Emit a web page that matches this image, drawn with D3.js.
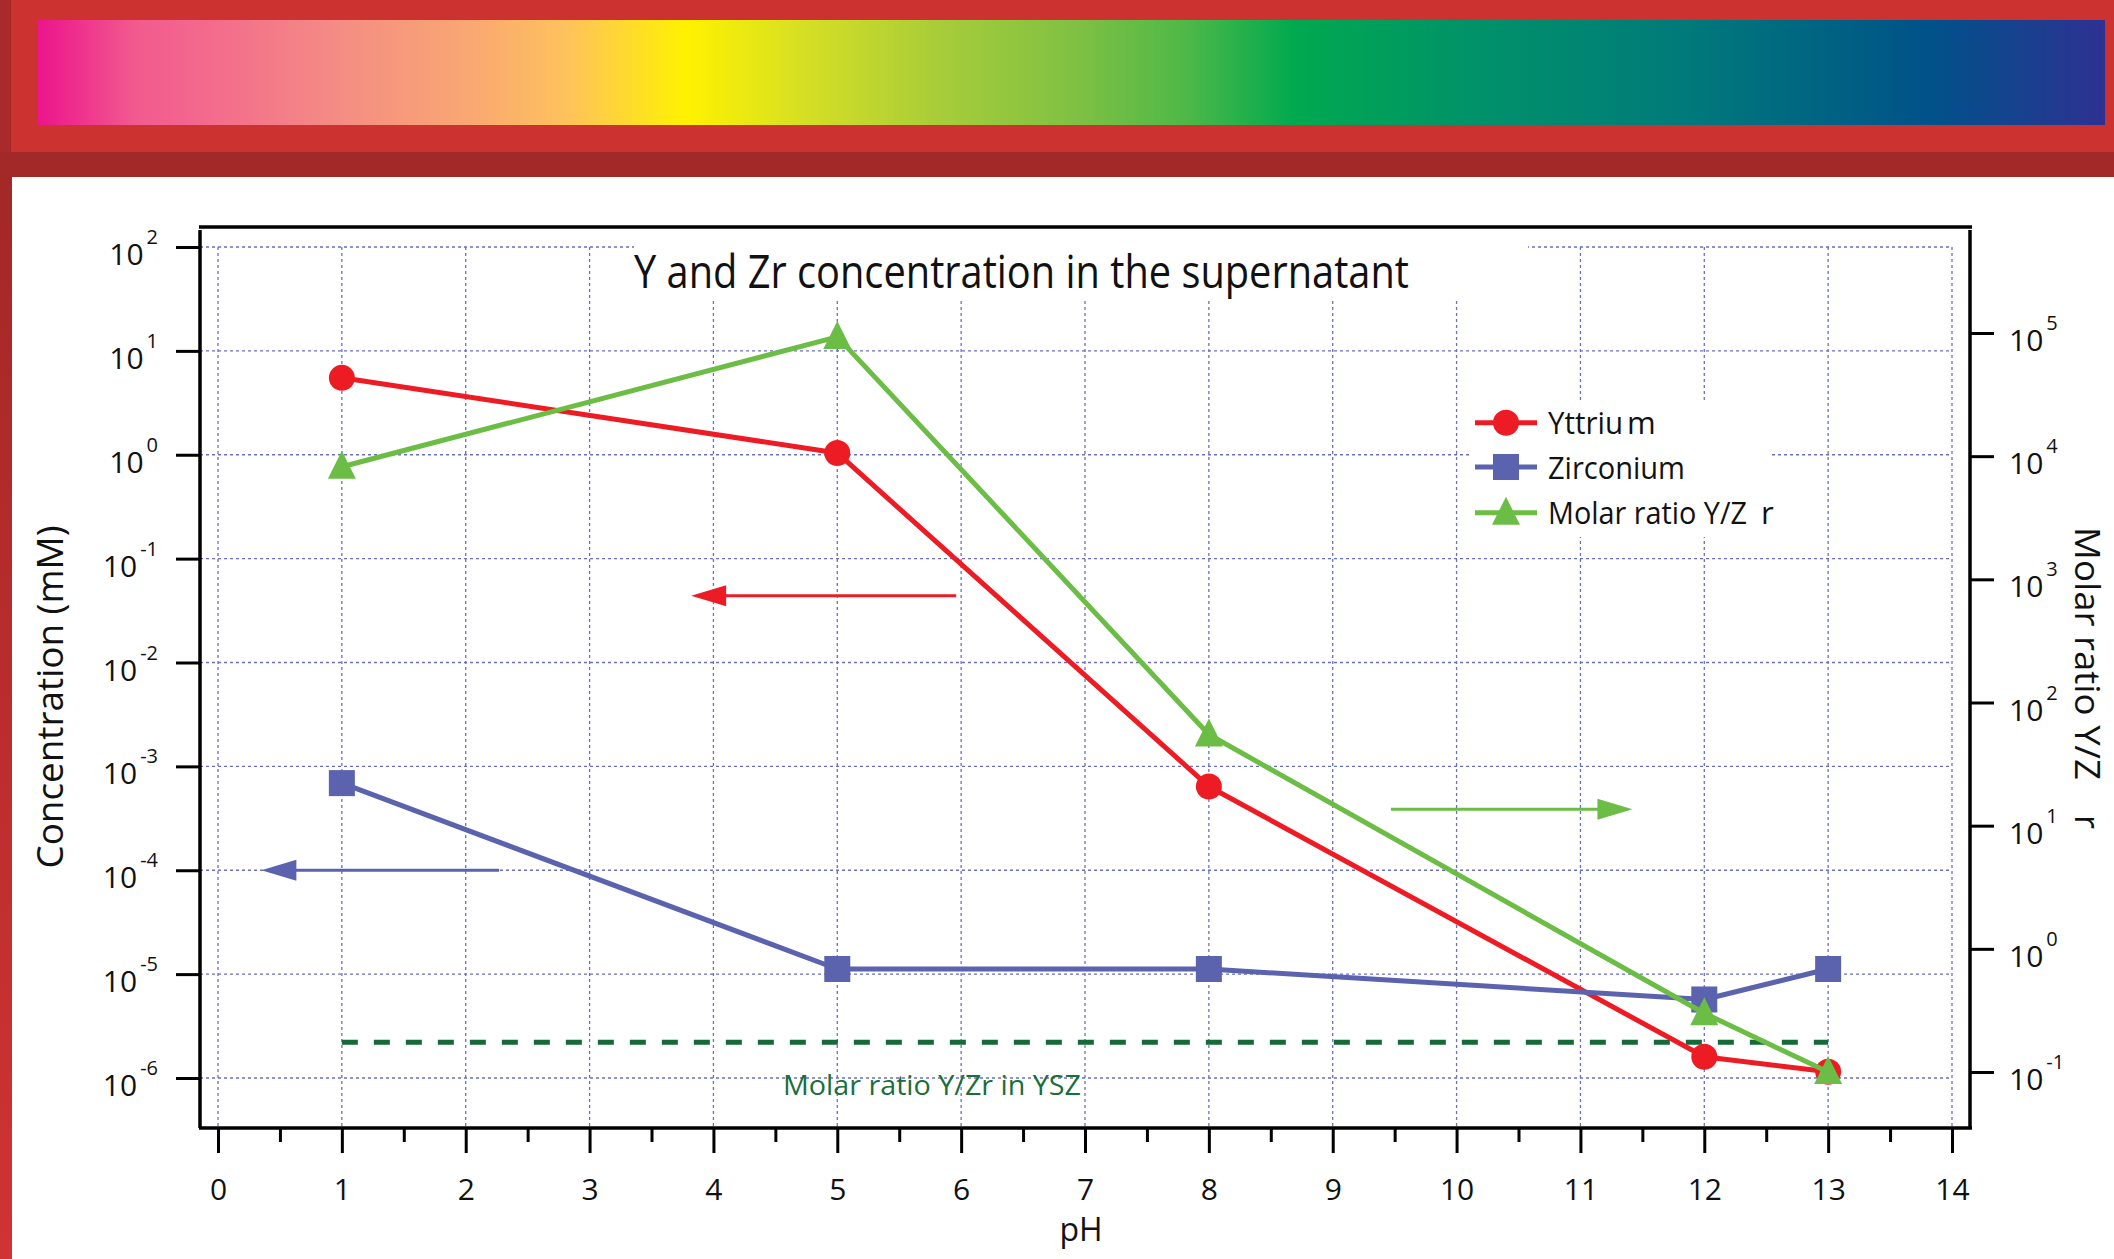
<!DOCTYPE html>
<html>
<head>
<meta charset="utf-8">
<script src="https://cdn.jsdelivr.net/npm/d3@7"></script>
<style>
  html, body { margin: 0; padding: 0; background: #fff; }
  svg { display: block; font-family: "Open Sans", "Noto Sans", sans-serif; }
</style>
</head>
<body>
<svg id="chart" width="2114" height="1259"></svg>
<script>
// values
const pH = [1, 5, 8, 12, 13];
const yttrium = [5.5, 1.04, 6.4e-4, 1.6e-6, 1.15e-6];      // mM, left axis
const zirconium = [6.9e-4, 1.12e-5, 1.12e-5, 5.7e-6, 1.12e-5]; // mM, left axis
const molarRatio = [8200, 9.3e4, 55, 0.30, 0.10];           // right axis
const yszRatio = 0.174;          // dashed reference line, right axis
const yszRange = [1, 13];

const xTicks = d3.range(0, 15);
const xMinor = d3.range(0.5, 14, 1);
const leftDecades = [-6, -5, -4, -3, -2, -1, 0, 1, 2];
const rightDecades = [-1, 0, 1, 2, 3, 4, 5];

// arrows pointing to the axis each curve belongs to
const arrowFrom = [5.96, 2.27, 9.47];
const arrowTo = [3.82, 0.35, 11.42];
const arrowLevel = [0.044, 1e-4, 13.6];
const arrowAxis = ["left", "left", "right"];

const legendLabels = ["Yttrium", "Zirconium", "Molar ratio Y/Zr"];

// header spectrum
const spectrumStops = [
  [0, "#ec148c"], [0.047, "#f25a8f"], [0.08, "#f3698d"], [0.145, "#f48c84"],
  [0.21, "#f9a872"], [0.256, "#fec25c"], [0.314, "#fff200"], [0.373, "#d4de25"],
  [0.438, "#a6cc3a"], [0.504, "#7ec043"], [0.556, "#4db848"], [0.608, "#00a94f"],
  [0.699, "#00916a"], [0.797, "#007a7a"], [0.915, "#005289"], [1, "#2e3192"]
];

const RED = "#ed1c24", BLUE = "#5b63ae", GREEN = "#6cbd45", DKGREEN = "#146a38";
const GRID = "#6a6fc6";

const svg = d3.select("#chart");

var x = d3.scaleLinear().domain([0, 14]).range([218, 1952]);
var yL = d3.scaleLog().domain([1e-6, 1e2]).range([1078, 247]);
var yR = d3.scaleLog().domain([0.1, 1e5]).range([1072, 333]);

var frame = { left: 200, right: 1970, top: 227, bottom: 1128 };

function fit(sel, len) {
  sel.attr("textLength", len).attr("lengthAdjust", "spacingAndGlyphs");
  return sel;
}

// ---- page decoration
var defs = svg.append("defs");
var spec = defs.append("linearGradient").attr("id", "spectrum");
spectrumStops.forEach(function(s) {
  spec.append("stop").attr("offset", s[0]).attr("stop-color", s[1]);
});
var side = defs.append("linearGradient").attr("id", "side")
  .attr("x1", 0).attr("y1", 0).attr("x2", 0).attr("y2", 1);
side.append("stop").attr("offset", 0).attr("stop-color", "#a32826");
side.append("stop").attr("offset", 1).attr("stop-color", "#d03333");

svg.append("rect").attr("x", 0).attr("y", 0).attr("width", 2114).attr("height", 152).attr("fill", "#cb3230");
svg.append("rect").attr("x", 0).attr("y", 0).attr("width", 11).attr("height", 152).attr("fill", "#a82a2b");
svg.append("rect").attr("x", 38).attr("y", 20).attr("width", 2067).attr("height", 105).attr("fill", "url(#spectrum)");
svg.append("rect").attr("x", 0).attr("y", 152).attr("width", 2114).attr("height", 25).attr("fill", "#a22927");
svg.append("rect").attr("x", 0).attr("y", 177).attr("width", 12).attr("height", 1082).attr("fill", "url(#side)");

// ---- grid
var grid = svg.append("g")
  .attr("stroke", GRID).attr("stroke-width", 1.3).attr("stroke-dasharray", "3,3");
grid.selectAll("line.v").data(xTicks).enter().append("line")
  .attr("x1", d => x(d)).attr("x2", d => x(d))
  .attr("y1", yL(1e2)).attr("y2", frame.bottom);
grid.selectAll("line.h").data(leftDecades).enter().append("line")
  .attr("x1", frame.left).attr("x2", x(14))
  .attr("y1", d => yL(Math.pow(10, d))).attr("y2", d => yL(Math.pow(10, d)));

// white boxes behind title and legend
svg.append("rect").attr("x", 634).attr("y", 232).attr("width", 894).attr("height", 69).attr("fill", "#fff");
svg.append("rect").attr("x", 1470).attr("y", 400).attr("width", 302).attr("height", 137).attr("fill", "#fff");

// ---- title
fit(svg.append("text").attr("x", 634).attr("y", 288)
  .attr("font-size", 45).attr("fill", "#111")
  .text("Y and Zr concentration in the supernatant"), 775);

// ---- YSZ reference line
svg.append("line")
  .attr("x1", x(yszRange[0])).attr("x2", x(yszRange[1]))
  .attr("y1", yR(yszRatio)).attr("y2", yR(yszRatio))
  .attr("stroke", DKGREEN).attr("stroke-width", 5).attr("stroke-dasharray", "16,16");
fit(svg.append("text").attr("x", 783).attr("y", 1095)
  .attr("font-size", 28).attr("fill", "#1a6e3c")
  .text("Molar ratio Y/Zr in YSZ"), 298);

// ---- arrows
var arrowColors = [RED, BLUE, GREEN];
arrowFrom.forEach(function(a, i) {
  var yy = arrowAxis[i] === "left" ? yL(arrowLevel[i]) : yR(arrowLevel[i]);
  var x0 = x(a), x1 = x(arrowTo[i]);
  var dir = x1 > x0 ? 1 : -1;
  svg.append("line").attr("x1", x0).attr("x2", x1 - dir * 30)
    .attr("y1", yy).attr("y2", yy)
    .attr("stroke", arrowColors[i]).attr("stroke-width", 3);
  svg.append("path")
    .attr("d", "M" + x1 + "," + yy + "L" + (x1 - dir * 35) + "," + (yy - 10.5) +
               "L" + (x1 - dir * 35) + "," + (yy + 10.5) + "Z")
    .attr("fill", arrowColors[i]);
});

// ---- series
var series = [
  { values: yttrium, scale: yL, color: RED, shape: "circle" },
  { values: zirconium, scale: yL, color: BLUE, shape: "square" },
  { values: molarRatio, scale: yR, color: GREEN, shape: "triangle" }
];

function marker(g, shape, cx, cy, color) {
  if (shape === "circle") {
    g.append("circle").attr("cx", cx).attr("cy", cy).attr("r", 13).attr("fill", color);
  } else if (shape === "square") {
    g.append("rect").attr("x", cx - 13).attr("y", cy - 13).attr("width", 26).attr("height", 26).attr("fill", color);
  } else {
    g.append("path").attr("d", "M" + cx + "," + (cy - 16) + "L" + (cx + 14) + "," + (cy + 12) +
      "L" + (cx - 14) + "," + (cy + 12) + "Z").attr("fill", color);
  }
}

series.forEach(function(s) {
  var g = svg.append("g");
  var line = d3.line().x((d, i) => x(pH[i])).y(d => s.scale(d));
  g.append("path").datum(s.values).attr("d", line)
    .attr("fill", "none").attr("stroke", s.color).attr("stroke-width", 5)
    .attr("stroke-linejoin", "round");
  s.values.forEach(function(v, i) { marker(g, s.shape, x(pH[i]), s.scale(v), s.color); });
});

// ---- legend
var legendRows = [422.7, 467, 512.7];
legendLabels.forEach(function(label, i) {
  var s = series[i];
  var g = svg.append("g");
  g.append("line").attr("x1", 1475).attr("x2", 1537)
    .attr("y1", legendRows[i]).attr("y2", legendRows[i])
    .attr("stroke", s.color).attr("stroke-width", 5);
  marker(g, s.shape, 1506, legendRows[i], s.color);
  var t = g.append("text").attr("x", 1548).attr("y", legendRows[i] + 11.5)
    .attr("font-size", 31).attr("fill", "#111");
  if (i === 0) {
    fit(t.append("tspan").text(label.slice(0, 6)), 75);
    t.append("tspan").attr("x", 1627).text(label.slice(6));
  } else if (i === 1) {
    fit(t.append("tspan").text(label), 137);
  } else {
    fit(t.append("tspan").text(label.slice(0, 15)), 199);
    t.append("tspan").attr("x", 1761).text(label.slice(15));
  }
});

// ---- axes
var axisLeft = d3.axisLeft(yL).tickValues(leftDecades.map(d => Math.pow(10, d)))
  .tickSize(24).tickSizeOuter(0).tickFormat("");
var gl = svg.append("g").attr("transform", "translate(" + frame.left + ",0)").call(axisLeft);
gl.select(".domain").remove();
gl.selectAll(".tick line").attr("stroke", "#000").attr("stroke-width", 3);

var axisRight = d3.axisRight(yR).tickValues(rightDecades.map(d => Math.pow(10, d)))
  .tickSize(24).tickSizeOuter(0).tickFormat("");
var gr = svg.append("g").attr("transform", "translate(" + frame.right + ",0)").call(axisRight);
gr.select(".domain").remove();
gr.selectAll(".tick line").attr("stroke", "#000").attr("stroke-width", 3);

var axisBottom = d3.axisBottom(x).tickValues(xTicks).tickSize(25).tickSizeOuter(0).tickPadding(26);
var gb = svg.append("g").attr("transform", "translate(0," + frame.bottom + ")").call(axisBottom);
gb.select(".domain").remove();
gb.selectAll(".tick line").attr("stroke", "#000").attr("stroke-width", 3);
gb.selectAll(".tick text").attr("font-size", 30).attr("fill", "#111")
  .attr("font-family", "Open Sans, sans-serif");

var axisMinor = d3.axisBottom(x).tickValues(xMinor).tickSize(14).tickSizeOuter(0).tickFormat("");
var gm = svg.append("g").attr("transform", "translate(0," + frame.bottom + ")").call(axisMinor);
gm.select(".domain").remove();
gm.selectAll(".tick line").attr("stroke", "#000").attr("stroke-width", 3);

// power-of-ten labels
function powLabel(sel, e) {
  sel.append("tspan").text("10");
  sel.append("tspan").attr("font-size", 20).attr("dx", 3).attr("dy", -21).text(e);
}
leftDecades.forEach(function(e) {
  var t = svg.append("text").attr("x", 158).attr("y", yL(Math.pow(10, e)) + 18)
    .attr("text-anchor", "end").attr("font-size", 30).attr("fill", "#111");
  powLabel(t, e);
});
rightDecades.forEach(function(e) {
  var t = svg.append("text").attr("x", 2009).attr("y", yR(Math.pow(10, e)) + 18)
    .attr("font-size", 30).attr("fill", "#111");
  powLabel(t, e);
});

// frame lines
var fr = svg.append("g").attr("stroke", "#000").attr("stroke-width", 3.5);
fr.append("line").attr("x1", 199).attr("x2", 1972).attr("y1", frame.top).attr("y2", frame.top);
fr.append("line").attr("x1", 199).attr("x2", 1972).attr("y1", frame.bottom).attr("y2", frame.bottom);
fr.append("line").attr("x1", frame.left).attr("x2", frame.left).attr("y1", 230).attr("y2", frame.bottom);
fr.append("line").attr("x1", frame.right).attr("x2", frame.right).attr("y1", 230).attr("y2", frame.bottom);

// axis titles
svg.append("text").attr("x", 1081).attr("y", 1241).attr("text-anchor", "middle")
  .attr("font-size", 32).attr("fill", "#111").text("pH");

fit(svg.append("text").attr("transform", "translate(63,697) rotate(-90)")
  .attr("text-anchor", "middle").attr("font-size", 37).attr("fill", "#111")
  .text("Concentration (mM)"), 343);

var rt = svg.append("text").attr("transform", "translate(2075,527) rotate(90)")
  .attr("font-size", 34).attr("fill", "#111");
fit(rt.append("tspan").attr("x", 0).text(legendLabels[2].slice(0, 15)), 253);
rt.append("tspan").attr("x", 288).text(legendLabels[2].slice(15));
</script>
</body>
</html>
